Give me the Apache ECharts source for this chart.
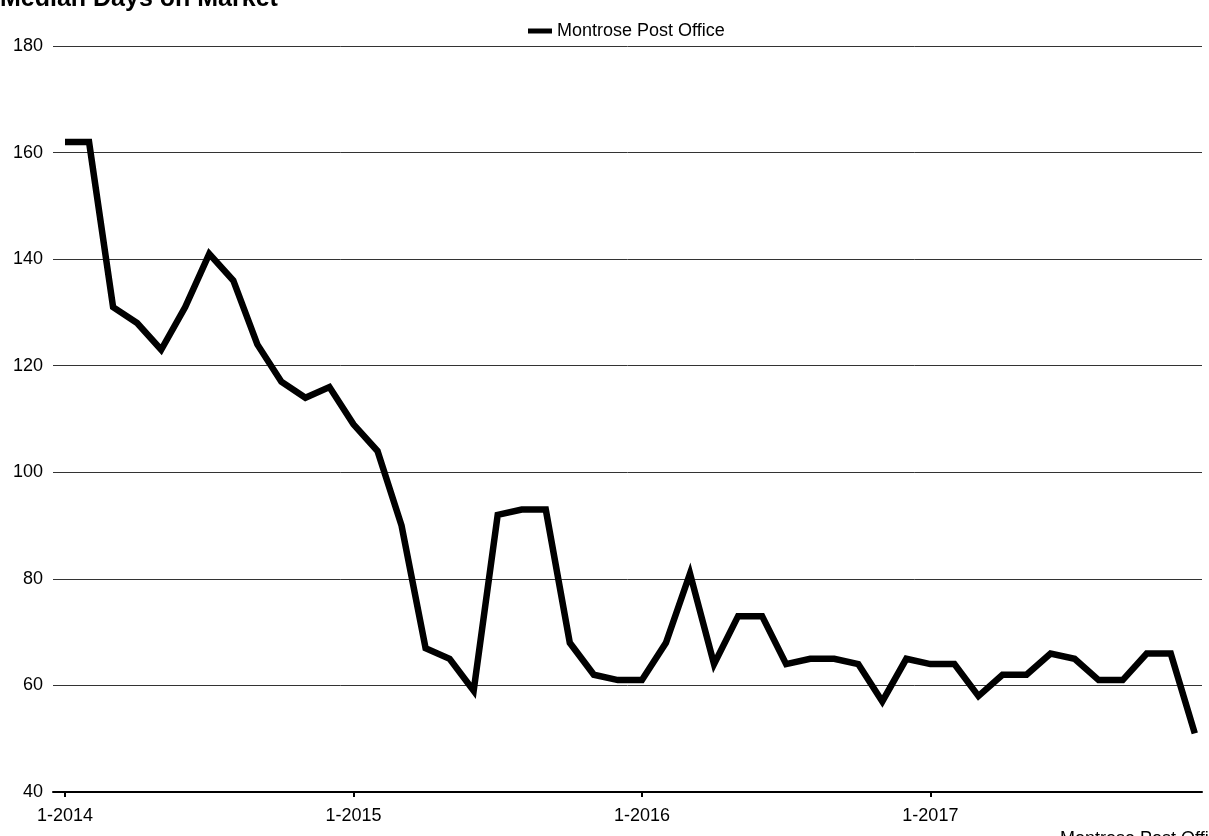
<!DOCTYPE html>
<html>
<head>
<meta charset="utf-8">
<script src="https://cdn.jsdelivr.net/npm/echarts@6/dist/echarts.min.js"></script>
<style>
html,body{margin:0;padding:0;background:#fff;}
#chart{width:1209px;height:836px;}
</style>
</head>
<body>
<div id="chart"></div>
<script>
// Months Jan 2014 .. Dec 2017
const months = [
  '1-2014','2-2014','3-2014','4-2014','5-2014','6-2014','7-2014','8-2014','9-2014','10-2014','11-2014','12-2014',
  '1-2015','2-2015','3-2015','4-2015','5-2015','6-2015','7-2015','8-2015','9-2015','10-2015','11-2015','12-2015',
  '1-2016','2-2016','3-2016','4-2016','5-2016','6-2016','7-2016','8-2016','9-2016','10-2016','11-2016','12-2016',
  '1-2017','2-2017','3-2017','4-2017','5-2017','6-2017','7-2017','8-2017','9-2017','10-2017','11-2017','12-2017'
];
const montroseDays = [
  162,162,131,128,123,131,141,136,124,117,114,116,
  109,104,90,67,65,59,92,93,93,68,62,61,
  61,68,81,64,73,73,64,65,65,64,57,65,
  64,64,58,62,62,66,65,61,61,66,66,51
];
const xTickIndexes = [0,12,24,36];
const yTicks = [40,60,80,100,120,140,160,180];

const FONT = 'Liberation Sans, Arial, sans-serif';
const chart = echarts.init(document.getElementById('chart'), null, {renderer:'canvas'});
const seriesData = montroseDays.map((v,i)=>[i,v]);

chart.setOption({
  animation:false,
  backgroundColor:'#ffffff',
  textStyle:{fontFamily:FONT},
  legend:{
    left:523, top:17,
    itemWidth:24, itemHeight:5, itemGap:8,
    icon:'rect',
    textStyle:{fontFamily:FONT,fontSize:18,color:'#000'},
    data:[{name:'Montrose Post Office', itemStyle:{color:'#000'}}]
  },
  grid:{left:53, right:7, top:46, bottom:44, containLabel:false},
  xAxis:{
    type:'value',
    min:-0.5, max:47.3,
    axisLine:{show:true, lineStyle:{color:'#000', width:2}},
    axisTick:{show:true, customValues:xTickIndexes, length:5, lineStyle:{color:'#000', width:2}},
    axisLabel:{
      customValues:xTickIndexes,
      formatter:(v)=>months[Math.round(v)] || '',
      fontFamily:FONT, fontSize:18, color:'#000', margin:15
    },
    splitLine:{show:false}
  },
  yAxis:{
    type:'value',
    min:yTicks[0], max:yTicks[yTicks.length-1], interval:20,
    axisLine:{show:false},
    axisTick:{show:false},
    axisLabel:{fontFamily:FONT, fontSize:18, color:'#000', margin:10},
    splitLine:{show:true, lineStyle:{color:'#333', width:1}}
  },
  series:[{
    name:'Montrose Post Office',
    type:'line',
    data:seriesData,
    showSymbol:false,
    symbol:'none',
    lineStyle:{color:'#000', width:6.5, cap:'butt', join:'miter'},
    itemStyle:{color:'#000'}
  }],
  graphic:[
    {type:'text', left:0, top:-13,
     style:{text:'Median Days on Market', font:'bold 25px '+FONT, fill:'#000'}},
    {type:'text', left:1060, top:830,
     style:{text:'Montrose Post Office', font:'18px '+FONT, fill:'#000'}}
  ]
});
</script>
</body>
</html>
